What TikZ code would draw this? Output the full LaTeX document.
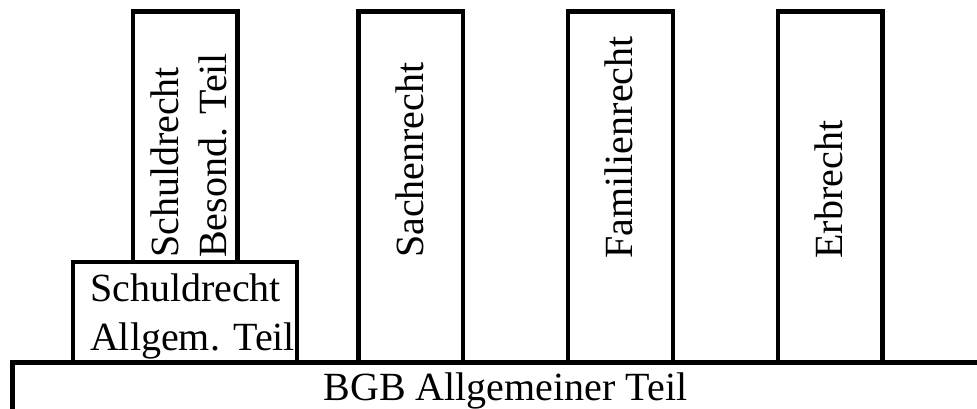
\documentclass[tikz,border=0pt]{standalone}
\usepackage{fontspec}
\setmainfont{Liberation Serif}
\begin{document}
\begin{tikzpicture}[x=0.75pt,y=-0.75pt,
  box/.style={draw, line width=3.2pt, inner sep=0pt, rectangle},
  lbl/.style={font=\fontsize{30}{36.5}\selectfont, inner sep=0pt, outer sep=0pt},
  vlbl/.style={lbl, rotate=90, align=left}]
\useasboundingbox (0,0) rectangle (977,409);
\clip (0,0) rectangle (977,409);
% base: BGB Allgemeiner Teil
\node[box, minimum width=740.6pt, minimum height=50.6pt] (bgb) at (506.25,396.25) {};
\node[lbl, anchor=base] (bgbtxt) at (505.5,400.7) {BGB Allgemeiner Teil};
% Schuldrecht Allgem. Teil
\node[box, minimum width=168.2pt, minimum height=75.4pt] (allg) at (184.9,312.25) {};
\node[lbl, align=left, anchor=west] (allgtxt) at (90,316.5) {Schuldrecht\\Allgem. Teil};
% Schuldrecht Besond. Teil
\node[box, minimum width=78.4pt, minimum height=187.9pt] (bes) at (185.25,136.75) {};
\node[vlbl, anchor=west] (bestxt) at (189,258) {Schuldrecht\\Besond. Teil};
% Sachenrecht
\node[box, minimum width=78.4pt, minimum height=263.25pt] (sach) at (410.75,187) {};
\node[vlbl, anchor=base west] (sachtxt) at (423,258) {Sachenrecht};
% Familienrecht
\node[box, minimum width=78.4pt, minimum height=263.25pt] (fam) at (620.55,187) {};
\node[vlbl, anchor=base west] (famtxt) at (632,258.5) {Familienrecht};
% Erbrecht
\node[box, minimum width=78.4pt, minimum height=263.25pt] (erb) at (830.25,187) {};
\node[vlbl, anchor=base west] (erbtxt) at (842.5,258.5) {Erbrecht};
\end{tikzpicture}
\end{document}
